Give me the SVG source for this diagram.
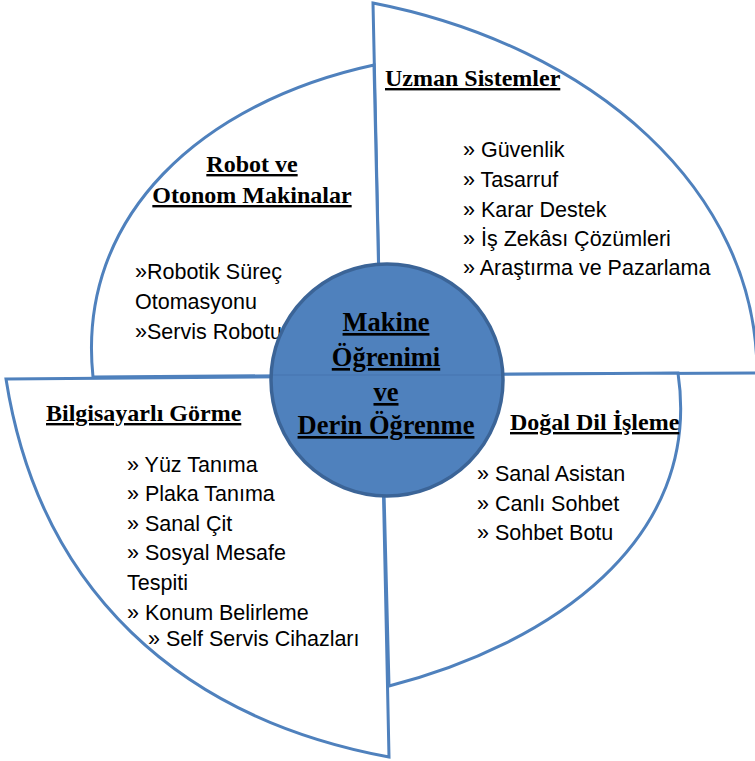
<svg xmlns="http://www.w3.org/2000/svg" width="755" height="761" viewBox="0 0 755 761">
<style>
.q{fill:#ffffff;stroke:#4f81bd;stroke-width:3;stroke-linejoin:miter}
.t{font-family:"Liberation Serif","Times New Roman",serif;font-weight:bold;font-size:24px;fill:#000;text-decoration:underline;text-decoration-thickness:2px}
.c{font-family:"Liberation Serif","Times New Roman",serif;font-weight:bold;font-size:26.5px;fill:#000;text-decoration:underline;text-decoration-thickness:2.5px}
.b{font-family:"Liberation Sans",Arial,sans-serif;font-size:21.5px;fill:#000}
</style>
<rect width="755" height="761" fill="#ffffff"/>
<g id="uzman">
<path class="q" d="M381,375 L373,3 C593,46 757,190 757,373 Z"/>
<text class="t" x="385" y="86">Uzman Sistemler</text>
<text class="b" x="463" y="157">» Güvenlik</text>
<text class="b" x="463" y="187">» Tasarruf</text>
<text class="b" x="463" y="217">» Karar Destek</text>
<text class="b" x="463" y="246">» İş Zekâsı Çözümleri</text>
<text class="b" x="463" y="275">» Araştırma ve Pazarlama</text>
</g>
<g id="robot">
<path class="q" d="M381,375 L374,65 C203,102 76,215 93,377 Z"/>
<text class="t" x="252" y="172" text-anchor="middle">Robot ve</text>
<text class="t" x="252" y="203" text-anchor="middle">Otonom Makinalar</text>
<text class="b" x="135" y="279">»Robotik Süreç</text>
<text class="b" x="135" y="309">Otomasyonu</text>
<text class="b" x="135" y="339">»Servis Robotu</text>
</g>
<g id="bilgisayar">
<path class="q" d="M6,379 L381,376 L389,757 C179,718 39,589 6,379 Z"/>
<text class="t" x="46" y="421">Bilgisayarlı Görme</text>
<text class="b" x="127" y="472">» Yüz Tanıma</text>
<text class="b" x="127" y="501">» Plaka Tanıma</text>
<text class="b" x="127" y="531">» Sanal Çit</text>
<text class="b" x="127" y="560">» Sosyal Mesafe</text>
<text class="b" x="127" y="590">Tespiti</text>
<text class="b" x="127" y="620">» Konum Belirleme</text>
<text class="b" x="148" y="646">» Self Servis Cihazları</text>
</g>
<g id="dogal">
<path class="q" d="M381,375 L678,373 C703,541 549,645 389,686 Z"/>
<text class="t" x="510" y="430">Doğal Dil İşleme</text>
<text class="b" x="477" y="481">» Sanal Asistan</text>
<text class="b" x="477" y="511">» Canlı Sohbet</text>
<text class="b" x="477" y="540">» Sohbet Botu</text>
</g>
<g id="center">
<circle cx="387" cy="380" r="116" fill="#4f81bd" stroke="#3b6497" stroke-width="3.5"/>
<line x1="273" y1="375" x2="501" y2="375" stroke="#4878b4" stroke-width="1.5"/>
<text class="c" x="386" y="331" text-anchor="middle">Makine</text>
<text class="c" x="386" y="366" text-anchor="middle">Öğrenimi</text>
<text class="c" x="386" y="401" text-anchor="middle">ve</text>
<text class="c" x="386" y="434" text-anchor="middle">Derin Öğrenme</text>
</g>
</svg>
